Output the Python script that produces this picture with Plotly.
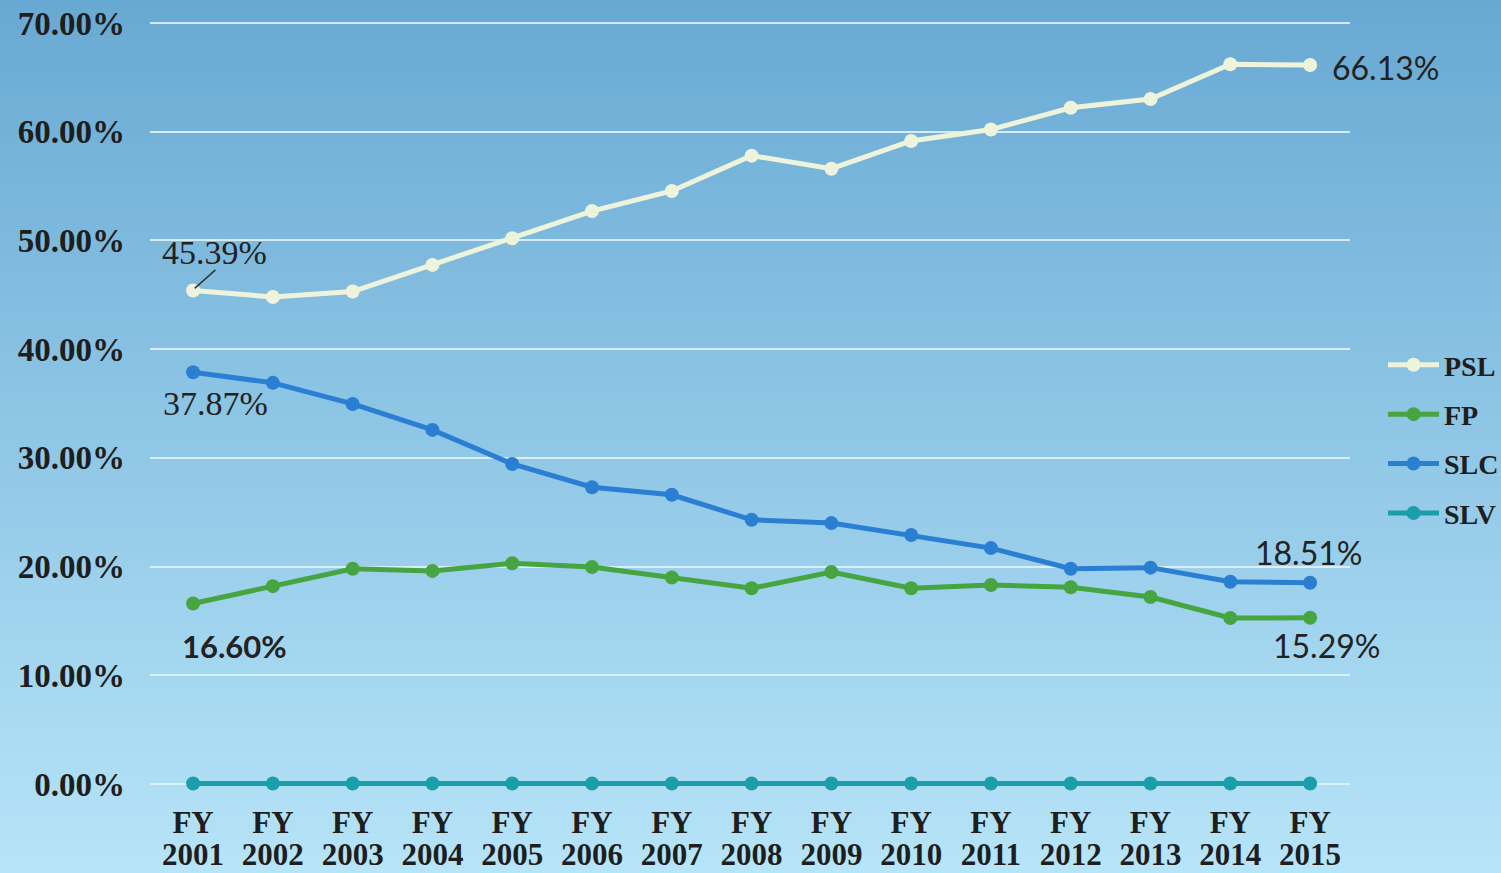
import plotly.graph_objects as go

fy_labels = ["FY"] * 15
year_labels = ["2001", "2002", "2003", "2004", "2005", "2006", "2007", "2008",
               "2009", "2010", "2011", "2012", "2013", "2014", "2015"]
psl = [45.39, 44.8, 45.3, 47.75, 50.2, 52.7, 54.55, 57.8, 56.6, 59.15, 60.2, 62.2, 63.0, 66.2, 66.13]
fp = [16.60, 18.2, 19.8, 19.6, 20.3, 19.96, 19.0, 18.0, 19.5, 18.0, 18.3, 18.1, 17.2, 15.27, 15.29]
slc = [37.87, 36.9, 34.96, 32.57, 29.44, 27.3, 26.6, 24.3, 24.0, 22.9, 21.7, 19.8, 19.9, 18.6, 18.51]
slv = [0.05, 0.05, 0.05, 0.05, 0.05, 0.05, 0.05, 0.05, 0.05, 0.05, 0.05, 0.05, 0.05, 0.05, 0.05]
y_ticks = [0, 10, 20, 30, 40, 50, 60, 70]
y_tick_labels = ["0.00%", "10.00%", "20.00%", "30.00%", "40.00%", "50.00%", "60.00%", "70.00%"]

series = [("PSL", psl, "#eef4dc"), ("FP", fp, "#46a540"), ("SLC", slc, "#2a7fd2"), ("SLV", slv, "#1b9eaa")]

xi = list(range(len(year_labels)))
fig = go.Figure()
for name, vals, col in series:
    fig.add_trace(go.Scatter(
        x=xi, y=vals, name=name, mode="lines+markers", legendgroup=name,
        line=dict(color=col, width=5),
        marker=dict(color=col, size=14),
        cliponaxis=False,
    ))
# invisible carrier trace for the second (FY) x axis
fig.add_trace(go.Scatter(x=xi, y=slv, xaxis="x2", yaxis="y", mode="markers",
                         marker=dict(opacity=0), showlegend=False, hoverinfo="skip"))

# background gradient (decoration)
T, B = 20, 86
PH = 873 - T - B
shapes = []
top = (0x68, 0xa9, 0xd3)
bot = (0xb6, 0xe4, 0xf8)
n = 90
y_top, y_bot = (873 - B) / PH, -B / PH
for i in range(n):
    t = i / (n - 1)
    c = tuple(int(round(top[k] + (bot[k] - top[k]) * t)) for k in range(3))
    y1 = y_top + (y_bot - y_top) * i / n
    y0 = y_top + (y_bot - y_top) * (i + 1) / n
    shapes.append(dict(type="rect", xref="paper", yref="paper", x0=-0.2, x1=1.2,
                       y0=y0 - 0.002, y1=y1 + 0.002, fillcolor="rgb(%d,%d,%d)" % c,
                       line=dict(width=0), layer="below"))
# leader line for first PSL label
shapes.append(dict(type="line", xref="x", yref="y", x0=0.02, y0=psl[0] + 0.2, x1=0.28, y1=psl[0] + 1.9,
                   line=dict(color="#333333", width=1.5)))

serif = "Liberation Serif"
sans = "Lato"
dark = "#222222"
annos = [
    dict(x=0.27, y=48.9, text=f"{psl[0]:.2f}%", font=dict(family=serif, size=34, color=dark)),
    dict(x=0.28, y=35.0, text=f"{slc[0]:.2f}%", font=dict(family=serif, size=34, color=dark)),
    dict(x=0.52, y=12.7, text=f"{fp[0]:.2f}%", font=dict(family=sans, size=31, color=dark, weight="bold")),
    dict(x=13.98, y=21.25, text=f"{slc[-1]:.2f}%", font=dict(family=sans, size=32, color=dark)),
    dict(x=14.2, y=12.7, text=f"{fp[-1]:.2f}%", font=dict(family=sans, size=32, color=dark)),
    dict(x=14.25, y=65.9, text=f"{psl[-1]:.2f}%", font=dict(family=sans, size=32, color=dark), xanchor="left"),
]
for a in annos:
    a.setdefault("xanchor", "center")
    a.update(xref="x", yref="y", showarrow=False, yanchor="middle")

xr = [-0.54, 14.5]
yr = [-3 / 10.871, 70 + 3 / 10.871]
tickfont = dict(family=serif, size=31, color="#1e1e1e", weight="bold")
fig.update_layout(
    width=1501, height=873,
    margin=dict(l=150, r=151, t=T, b=B, autoexpand=False),
    paper_bgcolor="#a6d6ef",
    plot_bgcolor="rgba(0,0,0,0)",
    shapes=shapes,
    annotations=annos,
    showlegend=True,
    legend=dict(xref="container", yref="container", x=0.9214, y=0.6105,
                xanchor="left", yanchor="top",
                font=dict(family=serif, size=28, color="#1e1e1e", weight="bold"),
                bgcolor="rgba(0,0,0,0)", tracegroupgap=10, itemwidth=51),
    xaxis=dict(
        tickmode="array", tickvals=xi, ticktext=year_labels, range=xr,
        showgrid=False, zeroline=False, showline=False, ticks="", automargin=False,
        ticklabelstandoff=46, tickfont=tickfont,
    ),
    xaxis2=dict(
        tickmode="array", tickvals=xi, ticktext=fy_labels, range=xr, overlaying="x",
        side="bottom", anchor="y",
        showgrid=False, zeroline=False, showline=False, ticks="", automargin=False,
        ticklabelstandoff=14, tickfont=tickfont,
    ),
    yaxis=dict(
        tickmode="array", tickvals=y_ticks, ticktext=y_tick_labels, range=yr,
        showgrid=True, gridcolor="rgba(228,246,253,0.85)", gridwidth=1.5,
        zeroline=False, showline=False, ticks="", ticklabelstandoff=24, automargin=False,
        tickfont=dict(family=serif, size=33, color="#1e1e1e", weight="bold"),
    ),
)

fig.write_html("out.html")
